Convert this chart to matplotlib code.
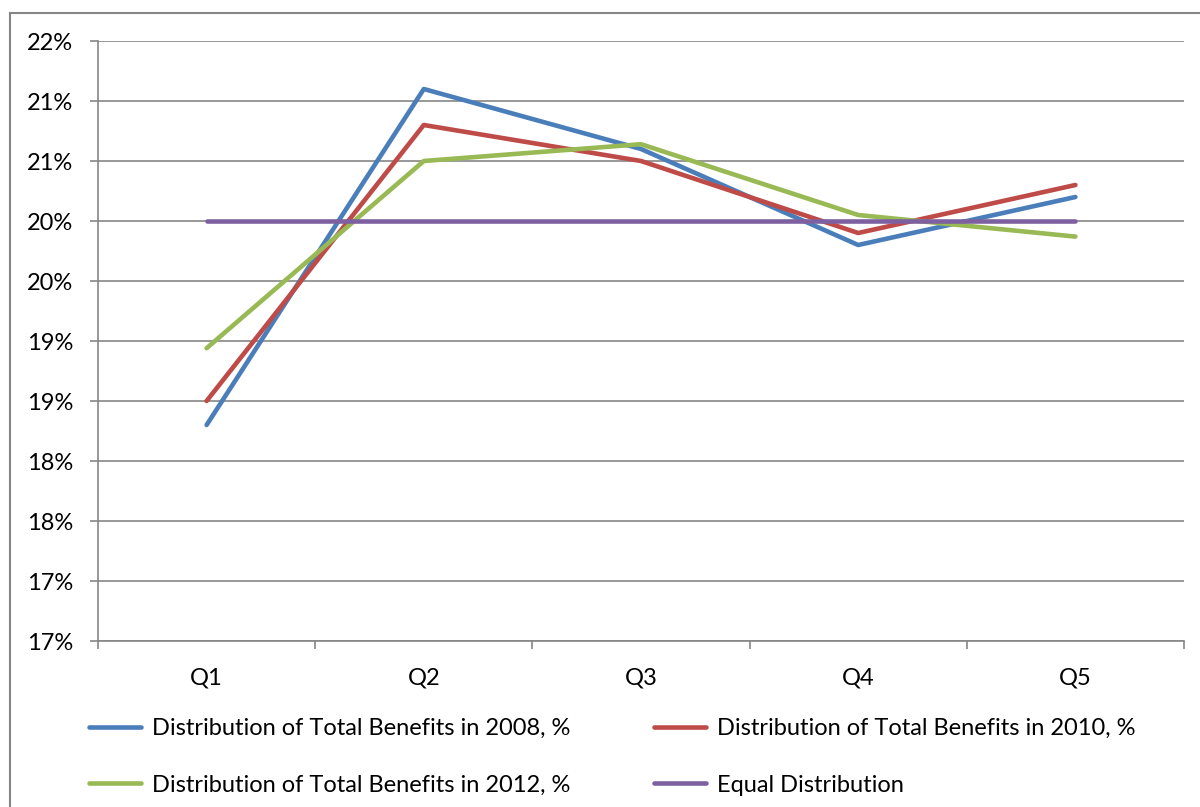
import math
import matplotlib
matplotlib.use("Agg")
import matplotlib.pyplot as plt
from matplotlib.patches import Rectangle
from matplotlib.ticker import MultipleLocator, FuncFormatter, FixedLocator

plt.rcParams['font.family'] = ['Lato', 'DejaVu Sans']

quintiles = ['Q1', 'Q2', 'Q3', 'Q4', 'Q5']
benefits_2008 = [18.30, 21.10, 20.60, 19.80, 20.20]
benefits_2010 = [18.50, 20.80, 20.50, 19.90, 20.30]
benefits_2012 = [18.94, 20.50, 20.64, 20.05, 19.87]
equal_dist = [20.0, 20.0, 20.0, 20.0, 20.0]

series = [
    ('Distribution of Total Benefits in 2008, %', benefits_2008, '#4A7EBB'),
    ('Distribution of Total Benefits in 2010, %', benefits_2010, '#BE4B48'),
    ('Distribution of Total Benefits in 2012, %', benefits_2012, '#98B954'),
    ('Equal Distribution', equal_dist, '#7D60A0'),
]

fs = 17

fig = plt.figure(figsize=(12, 8.07), dpi=100)
ax = fig.add_axes([98 / 1200, 1 - 641 / 807, (1184 - 98) / 1200, 600 / 807])

x = list(range(len(quintiles)))
lines = []
for label, vals, color in series:
    ln, = ax.plot(x, vals, color=color, lw=3.3, label=label, solid_capstyle='round')
    lines.append(ln)

ax.set_xlim(-0.5, 4.5)
ax.set_ylim(16.5, 21.5)

ax.yaxis.set_major_locator(MultipleLocator(0.5))
ax.yaxis.set_major_formatter(FuncFormatter(lambda v, p: '%d%%' % math.floor(v + 0.5)))
ax.grid(axis='y', color='#868686', lw=1.2)
ax.set_axisbelow(True)

ax.set_xticks(x)
ax.set_xticklabels(quintiles)
ax.xaxis.set_minor_locator(FixedLocator([i - 0.5 for i in range(6)]))
ax.tick_params(axis='x', which='major', length=0, pad=19, labelsize=fs)
ax.tick_params(axis='x', which='minor', length=6, width=1.2, color='#868686')
ax.tick_params(axis='y', length=6, width=1.2, color='#868686', pad=12, labelsize=fs)

for s in ['top', 'right']:
    ax.spines[s].set_visible(False)
for s in ['left', 'bottom']:
    ax.spines[s].set_color('#868686')
    ax.spines[s].set_linewidth(1.2)

# outer chart border
fig.patches.append(Rectangle((10 / 1200, -0.1), 1.2, 1 - 13 / 807 + 0.1,
                             transform=fig.transFigure, fill=False,
                             edgecolor='#868686', lw=1.5))

# row-major order in a 2-column legend
order = [0, 2, 1, 3]
fig.legend([lines[i] for i in order], [series[i][0] for i in order],
           loc='upper left', bbox_to_anchor=(68 / 1200, 1 - 697 / 807), ncol=2,
           frameon=False, fontsize=fs, handlelength=2.2, handletextpad=0.45,
           columnspacing=3.55, labelspacing=1.5)

fig.savefig('out.png', dpi=100)
